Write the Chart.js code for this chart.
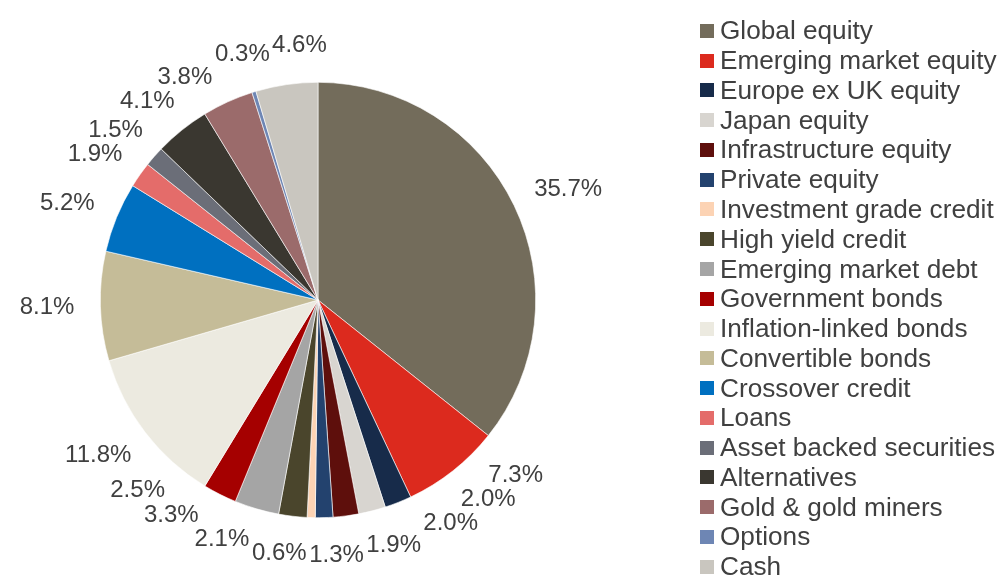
<!DOCTYPE html>
<html>
<head>
<meta charset="utf-8">
<script src="https://cdn.jsdelivr.net/npm/chart.js@4/dist/chart.umd.min.js"></script>
<style>
  html, body { margin: 0; padding: 0; background: #fff; }
  #wrap { position: relative; width: 1005px; height: 577px; overflow: hidden; }
  #chart { position: absolute; left: 0; top: 0; }
  #legend { position: absolute; left: 700px; top: 16px; font-family: "Liberation Sans", Arial, sans-serif; font-size: 26.2px; color: #404040; }
  .item { height: 29.78px; display: flex; align-items: center; white-space: nowrap; }
  .box { width: 14px; height: 14px; margin-right: 6px; flex: none; }
</style>
</head>
<body>
<div id="wrap">
  <canvas id="chart" width="1005" height="577"></canvas>
  <div id="legend"></div>
</div>
<script>
// asset classes, in slice order (clockwise from 12 o'clock)
const categories = [
  "Global equity", "Emerging market equity", "Europe ex UK equity", "Japan equity",
  "Infrastructure equity", "Private equity", "Investment grade credit", "High yield credit",
  "Emerging market debt", "Government bonds", "Inflation-linked bonds", "Convertible bonds",
  "Crossover credit", "Loans", "Asset backed securities", "Alternatives",
  "Gold & gold miners", "Options", "Cash"
];
const weights = [35.7, 7.3, 2.0, 2.0, 1.9, 1.3, 0.6, 2.1, 3.3, 2.5, 11.8, 8.1, 5.2, 1.9, 1.5, 4.1, 3.8, 0.3, 4.6];
const colors = [
  "#736c5b", "#dc2a1e", "#172b4a", "#d8d5d0", "#5e0f0c", "#23426e", "#fcd3b4", "#4a452c",
  "#a5a5a5", "#a50000", "#eceae0", "#c5bc98", "#0070c0", "#e46c6a", "#6b6e78", "#3a3730",
  "#9b6b6b", "#6e86b4", "#c9c6bf"
];

// legend as plain html
const legendEl = document.getElementById('legend');
categories.forEach((c, i) => {
  const row = document.createElement('div');
  row.className = 'item';
  row.innerHTML = `<span class="box" style="background:${colors[i]}"></span><span>${c}</span>`;
  legendEl.appendChild(row);
});

// percentage labels outside the slices, nudged along the rim so they don't collide
const outsideLabels = {
  id: 'outsideLabels',
  afterDatasetsDraw(chart) {
    const ctx = chart.ctx;
    const arcs = chart.getDatasetMeta(0).data;
    const gap = 26, h = 24;
    ctx.save();
    ctx.font = '24px "Liberation Sans", Arial, sans-serif';
    ctx.fillStyle = '#404040';
    ctx.textAlign = 'center';
    ctx.textBaseline = 'middle';

    const labels = arcs.map((arc, i) => {
      const text = weights[i].toFixed(1) + '%';
      return { text, w: ctx.measureText(text).width, a: (arc.startAngle + arc.endAngle) / 2, arc };
    });
    const place = l => {
      const dx = Math.cos(l.a), dy = Math.sin(l.a);
      const r = l.arc.outerRadius + gap;
      l.x = l.arc.x + r * dx + (l.w / 2) * dx;
      l.y = l.arc.y + r * dy + (h / 2) * dy;
    };
    labels.forEach(place);

    const overlaps = (p, q) =>
      Math.abs(p.x - q.x) < (p.w + q.w) / 2 + 2 && Math.abs(p.y - q.y) < h;
    for (let it = 0; it < 3000; it++) {
      let moved = false;
      for (let i = 0; i < labels.length; i++) {
        const p = labels[i], q = labels[(i + 1) % labels.length];
        if (overlaps(p, q)) {
          p.a -= 0.002; q.a += 0.002;
          place(p); place(q);
          moved = true;
        }
      }
      if (!moved) break;
    }

    labels.forEach(l => ctx.fillText(l.text, l.x, l.y));
    ctx.restore();
  }
};

new Chart(document.getElementById('chart'), {
  type: 'pie',
  data: {
    labels: categories,
    datasets: [{
      data: weights,
      backgroundColor: colors,
      borderColor: '#ffffff',
      borderWidth: 0.6,
    }]
  },
  options: {
    responsive: false,
    animation: false,
    layout: { padding: { left: 100, right: 469, top: 82, bottom: 59 } },
    plugins: {
      legend: { display: false },
      tooltip: { enabled: false }
    }
  },
  plugins: [outsideLabels]
});
</script>
</body>
</html>
